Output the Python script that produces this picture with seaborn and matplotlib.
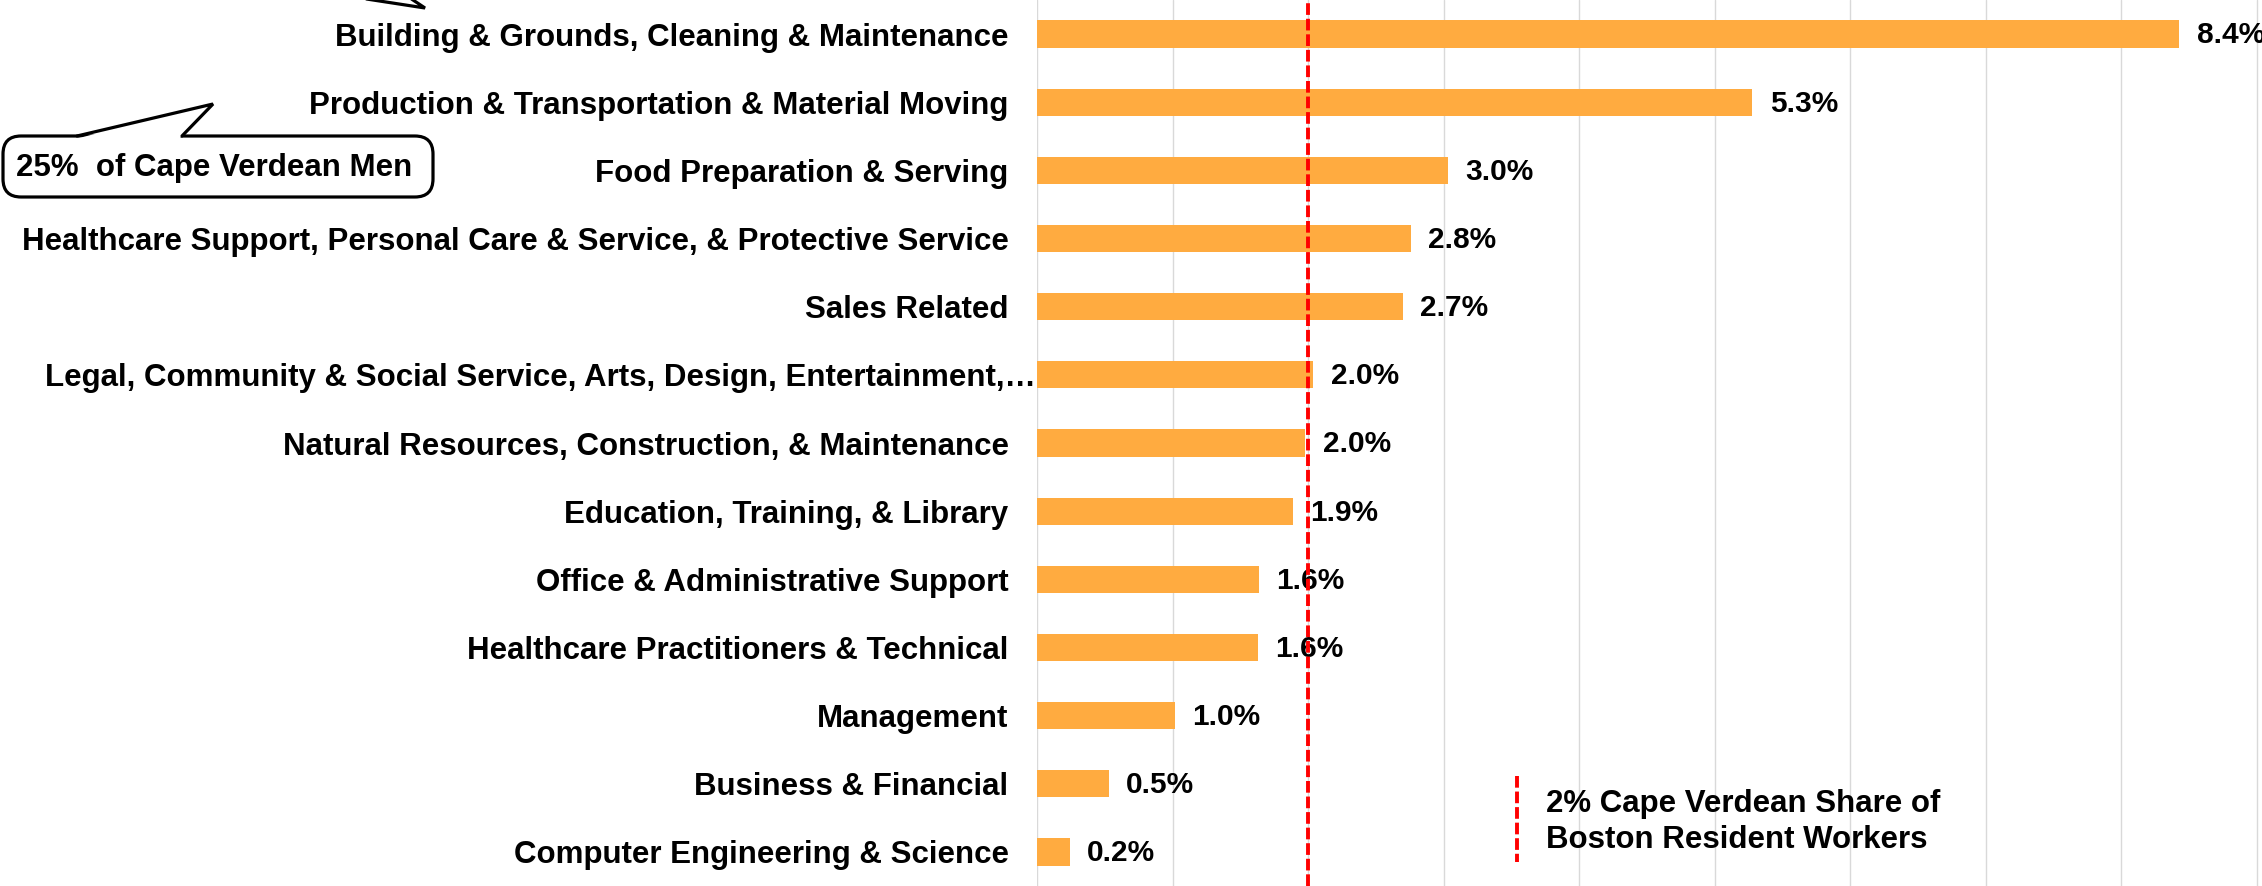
import numpy as np
import pandas as pd
import matplotlib
matplotlib.use("Agg")
import matplotlib.pyplot as plt
import matplotlib.transforms as mtransforms
from matplotlib.patches import FancyBboxPatch, Polygon
from matplotlib.lines import Line2D
import seaborn as sns

# Occupation shares of Cape Verdean men
occupations = [
    "Building & Grounds, Cleaning & Maintenance",
    "Production & Transportation & Material Moving",
    "Food Preparation & Serving",
    "Healthcare Support, Personal Care & Service, & Protective Service",
    "Sales Related",
    "Legal, Community & Social Service, Arts, Design, Entertainment,\u2026",
    "Natural Resources, Construction, & Maintenance",
    "Education, Training, & Library",
    "Office & Administrative Support",
    "Healthcare Practitioners & Technical",
    "Management",
    "Business & Financial",
    "Computer Engineering & Science",
]
shares = [8.43, 5.28, 3.03, 2.76, 2.70, 2.04, 1.98, 1.89, 1.64, 1.63, 1.02, 0.53, 0.24]
boston_share = 2.0
callout_text = "25%  of Cape Verdean Men"
legend_text = "2% Cape Verdean Share of\nBoston Resident Workers"

BAR_COLOR = "#FFAB40"
W, H, DPI = 2262, 886, 100
FS = 22.5

sns.set_theme(style="white")
plt.rcParams["font.family"] = ["Liberation Sans", "DejaVu Sans"]
plt.rcParams["font.weight"] = "bold"
plt.rcParams["text.color"] = "black"

df = pd.DataFrame({"occupation": occupations, "share": shares})

fig = plt.figure(figsize=(W / DPI, H / DPI), dpi=DPI)
ax_left = 1037 / W
ax = fig.add_axes([ax_left, 0.0, 1 - ax_left, 1.0])

sns.barplot(data=df, x="share", y="occupation", color=BAR_COLOR,
            saturation=1, width=0.4, ax=ax, edgecolor="none")

ax.set_xlim(0, (W - 1037) / 135.5)
ax.set_xticks(np.arange(0, 10, 1))
ax.xaxis.grid(True, color="#d9d9d9", linewidth=1.0)
ax.set_axisbelow(True)
ax.set_xlabel("")
ax.set_ylabel("")
ax.tick_params(axis="x", bottom=False, labelbottom=False)
ax.tick_params(axis="y", left=False, pad=14.5, labelsize=FS)
for lbl in ax.get_yticklabels():
    lbl.set_fontweight("bold")
    lbl.set_color("black")
for s in ax.spines.values():
    s.set_visible(False)

# the truncated label sits a bit further right in the original
trunc = ax.get_yticklabels()[5]
trunc.set_transform(trunc.get_transform() +
                    mtransforms.ScaledTranslation(0.27, 0, fig.dpi_scale_trans))

# value labels
for i, v in enumerate(shares):
    ax.annotate(f"{v:.1f}%", (v, i), xytext=(12.5, -1), textcoords="offset points",
                ha="left", va="center", fontsize=21.5, fontweight="bold", color="black")

# Boston reference line
ax.axvline(boston_share, color="red", linewidth=2.8, linestyle=(0, (3, 1)), zorder=5)

# helper for figure pixel coordinates (origin top-left)
def px(x, y):
    return (x / W, 1 - y / H)

# legend for the reference line
fig.add_artist(Line2D([px(1517, 776)[0], px(1517, 862)[0]],
                      [px(1517, 776)[1], px(1517, 862)[1]],
                      color="red", linewidth=2.8, linestyle=(0, (3, 1)),
                      transform=fig.transFigure))
fig.text(*px(1546, 822), legend_text, fontsize=FS, fontweight="bold", color="black",
         ha="left", va="center", linespacing=1.3, transform=fig.transFigure)

# callout box with wedge
bx0, by0 = px(3, 197)
bx1, by1 = px(433, 136)
box = FancyBboxPatch((bx0, by0), bx1 - bx0, by1 - by0,
                     boxstyle="round,pad=0,rounding_size=0.008",
                     facecolor="white", edgecolor="black", linewidth=2.3,
                     transform=fig.transFigure, mutation_aspect=W / H)
fig.add_artist(box)
fig.add_artist(Polygon([px(79, 138), px(213, 104), px(180, 138)], closed=True,
                       facecolor="white", edgecolor="none",
                       transform=fig.transFigure))
fig.add_artist(Line2D([px(77, 136)[0], px(213, 104)[0], px(182, 136)[0]],
                      [px(77, 136)[1], px(213, 104)[1], px(182, 136)[1]],
                      color="black", linewidth=2.3, solid_joinstyle="miter",
                      transform=fig.transFigure))
fig.text(*px(16, 168), callout_text, fontsize=FS, fontweight="bold", color="black",
         ha="left", va="center", transform=fig.transFigure)

# tip of a second callout cut off at the top edge
fig.add_artist(Line2D([px(360, -2)[0], px(425, 8)[0], px(410, -2)[0]],
                      [px(360, -2)[1], px(425, 8)[1], px(410, -2)[1]],
                      color="black", linewidth=2.3, solid_joinstyle="miter",
                      transform=fig.transFigure))

fig.savefig("out.png", dpi=DPI)
